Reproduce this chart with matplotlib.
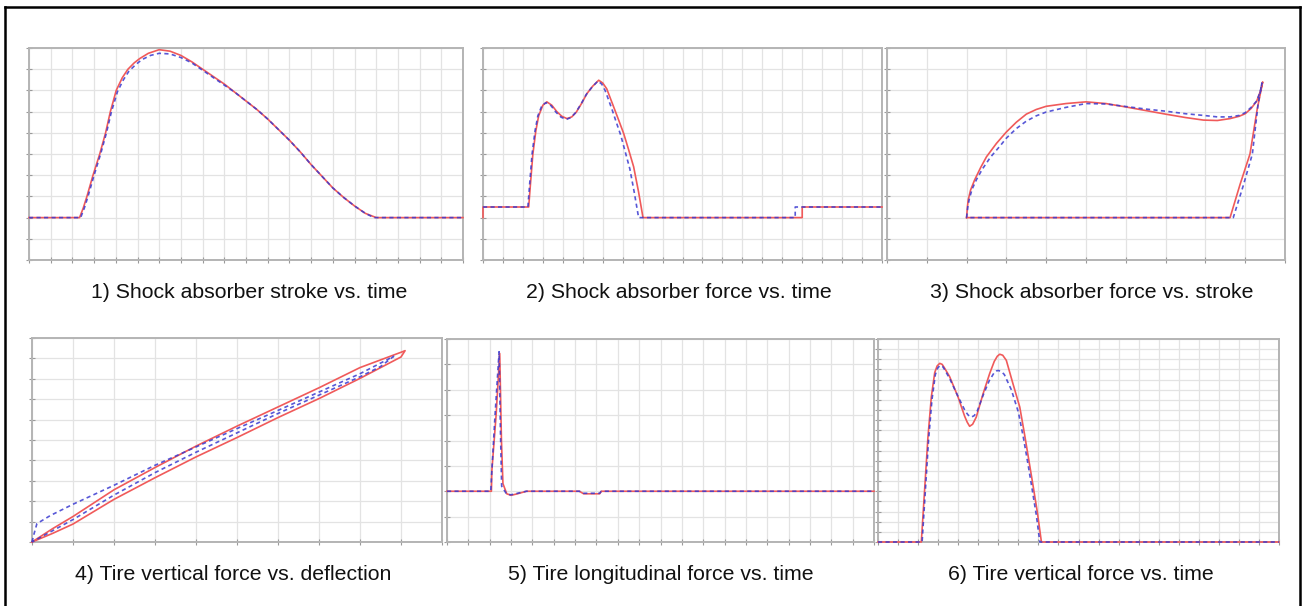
import matplotlib
matplotlib.use('Agg')
import matplotlib.pyplot as plt
from matplotlib.lines import Line2D

# ---------------- data (grid units) ----------------
captions = ["1) Shock absorber stroke vs. time",
            "2) Shock absorber force vs. time",
            "3) Shock absorber force vs. stroke",
            "4) Tire vertical force vs. deflection",
            "5) Tire longitudinal force vs. time",
            "6) Tire vertical force vs. time"]

x1_red = [0, 2.33, 2.5, 2.67, 2.95, 3.26, 3.53, 3.75, 4.02, 4.3, 4.56, 4.85, 5.1, 5.5, 6.0, 6.5, 7.0, 7.5, 8.0,
          8.5, 9.0, 9.5, 10, 10.5, 11, 11.5, 12, 12.5, 13, 13.5, 14, 14.5, 15, 15.5, 16, 20]
y1_red = [2, 2, 2.45, 3.0, 4.0, 5.0, 6.0, 7.0, 8.0, 8.6, 9.0, 9.3, 9.5, 9.75, 9.92, 9.85, 9.65, 9.35, 9.0,
          8.65, 8.3, 7.9, 7.5, 7.1, 6.65, 6.15, 5.65, 5.1, 4.5, 3.95, 3.4, 2.95, 2.55, 2.2, 2.0, 2.0]
x1_blue = [0, 2.38, 2.55, 2.72, 3.0, 3.3, 3.57, 3.8, 4.08, 4.35, 4.6, 4.9, 5.2, 5.6, 6.0, 6.5, 7.0, 7.5, 8.0,
           8.5, 9.0, 9.5, 10, 10.5, 11, 11.5, 12, 12.5, 13, 13.5, 14, 14.5, 15, 15.5, 15.9, 20]
y1_blue = [2, 2, 2.45, 3.0, 4.0, 5.0, 6.0, 7.0, 7.95, 8.5, 8.9, 9.2, 9.45, 9.65, 9.75, 9.72, 9.55, 9.3, 8.95,
           8.6, 8.25, 7.9, 7.5, 7.1, 6.65, 6.15, 5.65, 5.1, 4.5, 3.95, 3.4, 2.95, 2.55, 2.2, 2.0, 2.0]

x2_red = [0, 0, 2.29, 2.38, 2.5, 2.65, 2.79, 3.0, 3.2, 3.45, 3.7, 3.95, 4.21, 4.45, 4.68, 4.95, 5.21, 5.5,
          5.8, 6.0, 6.2, 6.55, 6.8, 7.05, 7.3, 7.55, 7.8, 8.02, 16.0, 16.0, 20]
y2_red = [2.0, 2.5, 2.5, 3.6, 5.0, 6.1, 6.8, 7.3, 7.46, 7.3, 7.0, 6.78, 6.67, 6.75, 6.98, 7.4, 7.85, 8.2,
          8.48, 8.35, 8.08, 7.22, 6.6, 5.97, 5.2, 4.4, 3.2, 2.0, 2.0, 2.5, 2.5]
x2_blue = [0, 2.25, 2.34, 2.46, 2.61, 2.75, 2.96, 3.16, 3.41, 3.66, 3.91, 4.17, 4.41, 4.64, 4.91, 5.17, 5.46,
           5.76, 5.95, 6.12, 6.45, 6.68, 6.9, 7.13, 7.36, 7.58, 7.8, 15.65, 15.65, 20]
y2_blue = [2.5, 2.5, 3.6, 5.0, 6.1, 6.8, 7.3, 7.42, 7.28, 6.97, 6.74, 6.63, 6.72, 6.95, 7.35, 7.8, 8.15,
           8.44, 8.3, 8.0, 7.15, 6.5, 5.9, 5.1, 4.3, 3.2, 2.0, 2.0, 2.5, 2.5]

x3_red = [2.0, 2.02, 2.04, 2.1, 2.2, 2.35, 2.5, 2.75, 3.0, 3.25, 3.5, 3.75, 4.0, 4.5, 5.0, 5.5, 6.0, 6.5,
          7.0, 7.5, 7.95, 8.3, 8.62, 8.85, 9.0, 9.15, 9.29, 9.38, 9.44, 9.3, 9.12, 8.87, 8.62, 2.0]
y3_red = [2.0, 2.5, 2.83, 3.3, 3.77, 4.35, 4.87, 5.5, 6.04, 6.5, 6.88, 7.1, 7.25, 7.38, 7.46, 7.38, 7.22,
          7.05, 6.88, 6.72, 6.6, 6.58, 6.67, 6.78, 6.9, 7.15, 7.5, 7.95, 8.4, 7.1, 5.0, 3.56, 2.0, 2.0]
x3_blue = [2.0, 2.03, 2.07, 2.14, 2.25, 2.4, 2.6, 2.85, 3.0, 3.25, 3.5, 3.75, 4.0, 4.5, 5.0, 5.5, 6.0, 6.5,
           7.0, 7.5, 7.95, 8.3, 8.62, 8.85, 9.0, 9.15, 9.29, 9.38, 9.42, 9.32, 9.18, 8.95, 8.7, 2.0]
y3_blue = [2.0, 2.5, 2.9, 3.35, 3.8, 4.3, 4.85, 5.4, 5.75, 6.2, 6.55, 6.8, 6.98, 7.2, 7.38, 7.36, 7.24,
           7.12, 7.02, 6.9, 6.82, 6.75, 6.75, 6.82, 6.95, 7.2, 7.5, 7.95, 8.35, 7.3, 5.0, 3.5, 2.0, 2.0]

x4_red = [0, 0.5, 1, 2, 3, 4, 5, 6, 7, 8, 9, 9.1, 9.0, 8, 7, 6, 5, 4, 3, 2, 1, 0.5, 0]
y4_red = [0, 0.42, 0.88, 2.09, 3.15, 4.17, 5.12, 6.1, 7.03, 8.02, 9.07, 9.38, 9.3, 8.55, 7.56, 6.62, 5.68,
          4.7, 3.65, 2.56, 1.25, 0.65, 0]
x4_blue = [0, 0.05, 0.12, 0.45, 1, 2, 3, 4, 5, 6, 7, 8, 8.82, 8.5, 8, 7, 6, 5, 4, 3, 2, 1, 0.5, 0]
y4_blue = [0, 0.4, 0.9, 1.3, 1.85, 2.78, 3.76, 4.66, 5.56, 6.45, 7.35, 8.25, 9.1, 8.6, 8.1, 7.2, 6.3, 5.35,
           4.4, 3.4, 2.3, 1.1, 0.55, 0]

x5_red = [0, 2.08, 2.1, 2.3, 2.47, 2.55, 2.62, 2.8, 3.0, 3.3, 3.72, 6.2, 6.4, 7.15, 7.23, 20]
y5_red = [2.0, 2.0, 2.8, 5.0, 7.43, 4.0, 2.3, 1.9, 1.84, 1.9, 2.0, 2.0, 1.9, 1.9, 2.0, 2.0]
x5_blue = [0, 2.05, 2.1, 2.25, 2.44, 2.5, 2.56, 2.8, 3.0, 3.3, 3.72, 6.2, 6.4, 7.15, 7.23, 20]
y5_blue = [2.0, 2.0, 2.8, 5.0, 7.5, 4.5, 2.2, 1.88, 1.86, 1.92, 2.0, 2.0, 1.92, 1.92, 2.0, 2.0]

x6_red = [0, 2.16, 2.33, 2.49, 2.66, 2.83, 2.95, 3.08, 3.2, 3.3, 3.57, 3.99, 4.32, 4.45, 4.57, 4.72, 4.9,
          5.24, 5.57, 5.8, 5.95, 6.07, 6.22, 6.4, 6.73, 7.07, 7.31, 7.52, 7.73, 7.95, 8.15, 20]
y6_red = [0, 0, 5.3, 10.3, 14.3, 16.7, 17.35, 17.6, 17.5, 17.2, 16.3, 14.3, 12.4, 11.8, 11.4, 11.6, 12.3,
          14.6, 16.6, 17.8, 18.3, 18.5, 18.4, 17.9, 15.6, 13.3, 10.6, 8.1, 5.6, 2.9, 0, 0]
x6_blue = [0, 2.2, 2.36, 2.52, 2.69, 2.86, 2.98, 3.1, 3.22, 3.32, 3.6, 4.0, 4.35, 4.5, 4.65, 4.8, 4.95,
           5.25, 5.55, 5.8, 5.9, 6.0, 6.15, 6.3, 6.65, 7.0, 7.25, 7.47, 7.68, 7.9, 8.07, 20]
y6_blue = [0, 0, 5.0, 10.0, 14.0, 16.5, 17.15, 17.4, 17.3, 17.0, 16.0, 14.3, 12.9, 12.5, 12.3, 12.45, 12.9,
           14.5, 15.9, 16.7, 16.85, 16.9, 16.8, 16.5, 15.0, 12.8, 10.3, 7.8, 5.3, 2.6, 0, 0]

# ---------------- layout ----------------
W, H = 1303, 606
fig = plt.figure(figsize=(W / 100, H / 100), dpi=100)
fig.patch.set_facecolor('white')

RED = '#f05a5a'
BLUE = '#3a3ad0'

panels = [
    # (L, T, R, B), xmax, ymax, red, blue, caption center x, caption y
    ((29, 48, 463, 260), 20, 10, (x1_red, y1_red), (x1_blue, y1_blue), 249, 292),
    ((483, 48, 882, 260), 20, 10, (x2_red, y2_red), (x2_blue, y2_blue), 679, 292),
    ((887, 48, 1285, 260), 10, 10, (x3_red, y3_red), (x3_blue, y3_blue), 1092, 292),
    ((32, 338, 442, 542), 10, 10, (x4_red, y4_red), (x4_blue, y4_blue), 233, 574),
    ((447, 339, 874, 542), 20, 8, (x5_red, y5_red), (x5_blue, y5_blue), 661, 574),
    ((878, 339, 1279, 542), 20, 20, (x6_red, y6_red), (x6_blue, y6_blue), 1081, 574),
]

for (L, T, R, B), xm, ym, red, blue, cx, cy, cap in [p + (c,) for p, c in zip(panels, captions)]:
    ax = fig.add_axes([L / W, 1 - B / H, (R - L) / W, (B - T) / H])
    ax.set_xlim(0, xm)
    ax.set_ylim(0, ym)
    ax.set_xticks(range(0, xm + 1))
    ax.set_yticks(range(0, ym + 1))
    ax.tick_params(direction='inout', length=4, width=0.8, colors='#9a9a9a',
                   labelleft=False, labelbottom=False)
    ax.grid(True, color='#e3e3e3', lw=0.9)
    ax.set_axisbelow(True)
    for s in ax.spines.values():
        s.set_color('#b4b4b4')
        s.set_linewidth(1.4)
    ax.plot(red[0], red[1], color=RED, lw=1.2, clip_on=False, zorder=3)
    ax.plot(blue[0], blue[1], color=BLUE, lw=1.2, ls=(0, (2.5, 2)), alpha=0.85,
            clip_on=False, zorder=4)
    fig.text(cx / W, 1 - cy / H, cap, ha='center', va='center',
             fontsize=15.3, family='Liberation Sans', color='#111111')

# outer frame
lw = 1.8
fig.add_artist(Line2D([5 / W, 5 / W], [0, 1 - 7 / H], color='black', lw=lw))
fig.add_artist(Line2D([5 / W, 1300 / W], [1 - 7 / H, 1 - 7 / H], color='black', lw=lw))
fig.add_artist(Line2D([1300 / W, 1300 / W], [0, 1 - 7 / H], color='black', lw=lw))

fig.savefig('out.png', dpi=100, facecolor='white')
